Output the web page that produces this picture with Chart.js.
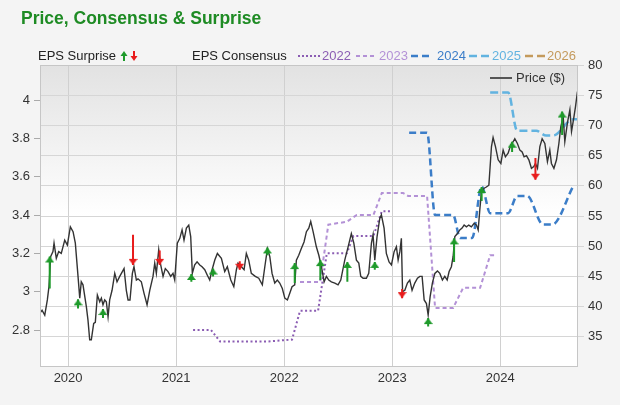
<!DOCTYPE html>
<html>
<head>
<meta charset="utf-8">
<script src="https://cdn.jsdelivr.net/npm/chart.js@4.4.0/dist/chart.umd.min.js"></script>
<style>
body { margin: 0; background: #f4f4f4; font-family: "Liberation Sans", Arial, sans-serif; }
#wrap { position: relative; width: 620px; height: 405px; overflow: hidden; }
#wrap canvas { position: absolute; left: 0; top: 0; }
.title { position: absolute; left: 21px; top: 8px; font-size: 17.5px; line-height: 20px; font-weight: bold; color: #1e8b24; white-space: nowrap; }
.txt { position: absolute; top: 48px; font-size: 13px; line-height: 16px; color: #222; white-space: nowrap; }
.smp { position: absolute; top: 53px; }
</style>
</head>
<body>
<div id="wrap">
  <canvas id="chart" width="620" height="405"></canvas>
  <div class="title">Price, Consensus &amp; Surprise</div>

  <div class="txt" style="left:38px">EPS Surprise</div>
  <svg class="smp" style="left:120px;top:50px" width="20" height="12">
    <path d="M4 11 V5" stroke="#1e9a2a" stroke-width="2"/><path d="M0.5 6 L4 1 L7.5 6 Z" fill="#1e9a2a"/>
    <path d="M14 1 V7" stroke="#e81c1c" stroke-width="2"/><path d="M10.5 6 L14 11 L17.5 6 Z" fill="#e81c1c"/>
  </svg>

  <div class="txt" style="left:192px">EPS Consensus</div>
  <svg class="smp" style="left:298px" width="22" height="6"><line x1="0" y1="3" x2="22" y2="3" stroke="#8b5db3" stroke-width="2" stroke-dasharray="2 2"/></svg>
  <div class="txt" style="left:322px;color:#8b5db3">2022</div>
  <svg class="smp" style="left:356px" width="20" height="6"><line x1="0" y1="3" x2="20" y2="3" stroke="#b391d6" stroke-width="2" stroke-dasharray="4 3"/></svg>
  <div class="txt" style="left:379px;color:#b391d6">2023</div>
  <svg class="smp" style="left:411px" width="22" height="6"><line x1="0" y1="3" x2="22" y2="3" stroke="#3b7dc8" stroke-width="2.5" stroke-dasharray="7 4"/></svg>
  <div class="txt" style="left:437px;color:#3b7dc8">2024</div>
  <svg class="smp" style="left:469px" width="21" height="6"><line x1="0" y1="3" x2="21" y2="3" stroke="#62b3e0" stroke-width="2.5" stroke-dasharray="8 4"/></svg>
  <div class="txt" style="left:492px;color:#62b3e0">2025</div>
  <svg class="smp" style="left:525px" width="20" height="6"><line x1="0" y1="3" x2="20" y2="3" stroke="#c49a5c" stroke-width="2.5" stroke-dasharray="8 4"/></svg>
  <div class="txt" style="left:547px;color:#c49a5c">2026</div>

  <svg class="smp" style="left:490px;top:75px" width="22" height="6"><line x1="0" y1="3" x2="22" y2="3" stroke="#555" stroke-width="2"/></svg>
  <div class="txt" style="left:516px;top:70px;color:#333">Price ($)</div>
</div>

<script>
// x values are decimal years
const years = [2020, 2021, 2022, 2023, 2024];
const epsTicks = [2.8, 3, 3.2, 3.4, 3.6, 3.8, 4];
const priceTicks = [35, 40, 45, 50, 55, 60, 65, 70, 75, 80];

const priceX = [
  2019.737, 2019.759, 2019.784, 2019.808, 2019.823, 2019.839, 2019.860, 2019.870, 2019.891, 2019.913, 2019.937, 2019.969, 2019.993,
  2020.021, 2020.046, 2020.067, 2020.092, 2020.108, 2020.122, 2020.138, 2020.169, 2020.184, 2020.200, 2020.215, 2020.237, 2020.252,
  2020.271, 2020.293, 2020.308, 2020.323, 2020.339, 2020.354, 2020.370, 2020.385, 2020.407, 2020.432, 2020.453, 2020.478, 2020.518, 2020.539, 2020.555, 2020.573,
  2020.595, 2020.610, 2020.632, 2020.647, 2020.678, 2020.703, 2020.731, 2020.756, 2020.786, 2020.802, 2020.817, 2020.839, 2020.854, 2020.879, 2020.900, 2020.925, 2020.950, 2020.971, 2020.987,
  2021.011, 2021.034, 2021.055, 2021.073, 2021.095, 2021.117, 2021.135, 2021.150, 2021.172, 2021.194, 2021.219, 2021.240, 2021.265, 2021.289, 2021.311, 2021.333, 2021.358, 2021.382,
  2021.419, 2021.450, 2021.474, 2021.506, 2021.534, 2021.558, 2021.573, 2021.604, 2021.629, 2021.650, 2021.672, 2021.696, 2021.733, 2021.765, 2021.798, 2021.821, 2021.845, 2021.867, 2021.888, 2021.913, 2021.937, 2021.959, 2021.983,
  2022.006, 2022.030, 2022.052, 2022.073, 2022.098, 2022.113, 2022.135, 2022.159, 2022.184, 2022.206, 2022.228, 2022.246, 2022.268, 2022.298, 2022.321, 2022.345, 2022.370, 2022.391, 2022.413, 2022.437, 2022.469, 2022.499, 2022.524,
  2022.561, 2022.592, 2022.622, 2022.645, 2022.669, 2022.691, 2022.709, 2022.731, 2022.761, 2022.783, 2022.808, 2022.823, 2022.839, 2022.860, 2022.885, 2022.900, 2022.925, 2022.946, 2022.971, 2022.993, 2023.018, 2023.039, 2023.055, 2023.071, 2023.085, 2023.096,
  2023.117, 2023.141, 2023.163, 2023.184, 2023.209, 2023.234, 2023.256, 2023.277, 2023.296, 2023.317, 2023.333, 2023.351, 2023.372, 2023.395, 2023.419, 2023.441, 2023.465, 2023.487, 2023.509, 2023.527, 2023.548, 2023.564,
  2023.580, 2023.604, 2023.626, 2023.647, 2023.666, 2023.687, 2023.709, 2023.733, 2023.759, 2023.780, 2023.796, 2023.811, 2023.826, 2023.851, 2023.872, 2023.895,
  2023.919, 2023.934, 2023.956, 2023.981, 2024.006, 2024.027, 2024.048, 2024.073, 2024.098, 2024.120, 2024.135, 2024.159, 2024.182, 2024.203, 2024.221, 2024.243, 2024.265, 2024.289, 2024.311, 2024.326, 2024.345,
  2024.367, 2024.388, 2024.413, 2024.437, 2024.459, 2024.474, 2024.497, 2024.521, 2024.543, 2024.561, 2024.583, 2024.598, 2024.622, 2024.645, 2024.660, 2024.678, 2024.697, 2024.715
];
const priceY = [
  38.9, 39.4, 38.6, 41.1, 43.3, 48.3, 49.1, 50.5, 48.0, 49.1, 48.8, 51.0, 50.2,
  53.2, 52.4, 50.5, 45.0, 41.4, 44.1, 43.6, 40.0, 37.8, 34.5, 34.5, 37.2, 37.4,
  41.9, 40.8, 41.4, 40.3, 41.1, 40.8, 38.3, 41.1, 42.7, 45.5, 44.1, 45.0, 46.3, 42.7, 41.1, 41.1,
  45.5, 46.6, 44.4, 44.6, 44.1, 42.2, 40.3, 42.7, 45.0, 47.2, 45.5, 49.4, 47.2, 45.0, 46.3, 45.8, 45.0, 45.5, 44.4,
  50.5, 51.3, 52.7, 51.0, 53.0, 53.5, 51.6, 45.5, 46.9, 47.4, 46.9, 46.6, 46.1, 45.2, 44.4, 46.1, 47.7, 48.8,
  48.0, 45.8, 46.6, 44.4, 43.3, 46.1, 47.2, 46.6, 46.1, 48.8, 47.7, 45.5, 45.0, 44.7, 43.6, 46.6, 49.6, 48.3, 45.5, 43.9, 44.4, 43.9, 43.0,
  41.4, 41.1, 42.2, 43.3, 43.6, 47.7, 48.5, 49.6, 50.7, 52.4, 53.0, 54.1, 52.4, 49.9, 48.5, 46.6, 44.1, 45.0, 44.4, 44.1, 43.9, 43.6, 44.4,
  47.7, 49.9, 52.1, 50.5, 47.7, 47.2, 45.0, 44.7, 44.7, 45.5, 50.5, 51.9, 47.7, 51.6, 54.6, 55.2, 53.0, 48.8, 47.4, 46.9, 49.1, 49.9, 47.7, 49.1, 51.3, 42.5,
  42.7, 43.9, 44.4, 42.7, 43.9, 44.7, 45.0, 45.0, 41.1, 40.5, 38.6, 41.6, 43.9, 45.5, 45.9, 45.5, 44.4, 45.0, 44.4, 45.8, 46.6, 48.3,
  51.6, 52.1, 52.7, 53.0, 53.5, 53.2, 53.5, 53.2, 53.8, 53.5, 52.7, 56.0, 59.0, 59.6, 59.8, 60.1,
  66.5, 68.0, 66.5, 64.3, 63.7, 65.9, 64.8, 65.4, 66.8, 67.3, 67.8, 67.0, 65.9, 65.6, 64.8, 65.0, 64.3, 62.9, 63.2, 63.7, 62.9,
  66.5, 67.8, 67.0, 64.0, 65.9, 63.7, 62.9, 64.3, 67.0, 69.8, 71.4, 67.3, 70.4, 72.6, 69.0, 70.9, 73.1, 75.6
];

// EPS consensus by fiscal year (left axis)
const fy2022X = [2021.157, 2021.323, 2021.407, 2021.842, 2022.073, 2022.147, 2022.314, 2022.395, 2022.580, 2022.641, 2022.826, 2022.904, 2022.997];
const fy2022Y = [2.80, 2.80, 2.74, 2.74, 2.75, 2.90, 2.90, 3.20, 3.20, 3.29, 3.29, 3.42, 3.42];
const fy2023X = [2022.147, 2022.333, 2022.409, 2022.580, 2022.672, 2022.826, 2022.904, 2023.101, 2023.147, 2023.323, 2023.397, 2023.564, 2023.657, 2023.814, 2023.907, 2023.971];
const fy2023Y = [3.05, 3.05, 3.35, 3.365, 3.40, 3.40, 3.515, 3.515, 3.50, 3.50, 2.915, 2.915, 3.02, 3.02, 3.19, 3.19];
const fy2024X = [2023.157, 2023.323, 2023.397, 2023.564, 2023.629, 2023.740, 2023.828, 2023.907, 2024.073, 2024.157, 2024.249, 2024.397, 2024.481, 2024.675];
const fy2024Y = [3.83, 3.83, 3.40, 3.40, 3.28, 3.28, 3.55, 3.41, 3.41, 3.50, 3.50, 3.35, 3.35, 3.55];
const fy2025X = [2023.907, 2024.073, 2024.157, 2024.333, 2024.425, 2024.490, 2024.675, 2024.722];
const fy2025Y = [4.04, 4.04, 3.84, 3.84, 3.815, 3.815, 3.90, 3.90];
const fy2026X = [];
const fy2026Y = [];

// EPS surprise arrows, drawn against the price axis
const surpriseX = [2019.830, 2020.092, 2020.323, 2020.601, 2020.848, 2021.141, 2021.342, 2021.589, 2021.845, 2022.098,
                   2022.335, 2022.585, 2022.839, 2023.092, 2023.333, 2023.573, 2023.828, 2024.110, 2024.326, 2024.573];
const surpriseFrom = [43.0, 39.7, 38.1, 51.9, 49.3, 44.1, 45.0, 47.5, 48.5, 43.9, 44.4, 44.1, 46.1, 42.9, 36.7, 47.4, 57.5, 65.6, 64.6, 68.4];
const surpriseTo = [48.3, 41.2, 39.6, 46.9, 46.9, 45.4, 46.3, 46.1, 49.8, 47.2, 47.7, 47.4, 47.4, 41.4, 38.1, 51.3, 59.8, 67.3, 61.0, 72.3];

function pts(xs, ys) {
  return xs.map((x, i) => ({ x: x, y: ys[i] }));
}

function makeHead(color) {
  const c = document.createElement('canvas');
  c.width = 9;
  c.height = 16;
  const g = c.getContext('2d');
  g.fillStyle = color;
  g.beginPath();
  g.moveTo(4.5, 8);
  g.lineTo(9, 14);
  g.lineTo(0, 14);
  g.closePath();
  g.fill();
  return c;
}

function arrowData(up) {
  const d = [];
  for (let i = 0; i < surpriseX.length; i++) {
    if ((surpriseTo[i] > surpriseFrom[i]) !== up) continue;
    d.push({ x: surpriseX[i], y: surpriseFrom[i] });
    d.push({ x: surpriseX[i], y: surpriseTo[i] });
    d.push({ x: surpriseX[i], y: null });
  }
  return d;
}

function arrowSet(up, color) {
  const head = makeHead(color);
  return {
    label: up ? 'beat' : 'miss',
    data: arrowData(up),
    yAxisID: 'yR',
    borderColor: color,
    borderWidth: 2,
    spanGaps: false,
    pointStyle: ctx => (ctx.dataIndex % 3 === 1 ? head : 'circle'),
    pointRadius: ctx => (ctx.dataIndex % 3 === 1 ? 5 : 0),
    pointRotation: up ? 0 : 180,
    order: 0
  };
}

function consensusSet(label, xs, ys, color, width, dash, smooth) {
  return {
    label: label,
    data: pts(xs, ys),
    yAxisID: 'yL',
    borderColor: color,
    borderWidth: width,
    borderDash: dash,
    pointRadius: 0,
    cubicInterpolationMode: smooth ? 'monotone' : 'default',
    order: 2
  };
}

const plotBg = {
  id: 'plotBg',
  beforeDraw(chart) {
    const { ctx, chartArea: a } = chart;
    const g = ctx.createLinearGradient(0, a.top, 0, a.bottom);
    g.addColorStop(0, '#e2e2e2');
    g.addColorStop(0.5, '#ffffff');
    g.addColorStop(1, '#ffffff');
    ctx.save();
    ctx.fillStyle = g;
    ctx.fillRect(a.left, a.top, a.right - a.left, a.bottom - a.top);
    ctx.restore();
  },
  afterDraw(chart) {
    const { ctx, chartArea: a } = chart;
    ctx.save();
    ctx.strokeStyle = '#c6c6c6';
    ctx.lineWidth = 1;
    ctx.strokeRect(a.left + 0.5, a.top + 0.5, a.right - a.left - 1, a.bottom - a.top - 1);
    ctx.restore();
  }
};

Chart.defaults.font.family = '"Liberation Sans", Arial, sans-serif';
Chart.defaults.font.size = 13;
Chart.defaults.color = '#333';

new Chart(document.getElementById('chart'), {
  type: 'line',
  data: {
    datasets: [
      arrowSet(true, '#1e9a2a'),
      arrowSet(false, '#e81c1c'),
      {
        label: 'Price ($)',
        data: pts(priceX, priceY),
        yAxisID: 'yR',
        borderColor: '#333333',
        borderWidth: 1.4,
        pointRadius: 0,
        order: 1
      },
      consensusSet('2022', fy2022X, fy2022Y, '#8b5db3', 2, [2, 2.5], false),
      consensusSet('2023', fy2023X, fy2023Y, '#b391d6', 2, [4, 3], false),
      consensusSet('2024', fy2024X, fy2024Y, '#3b7dc8', 2.5, [7, 4], true),
      consensusSet('2025', fy2025X, fy2025Y, '#62b3e0', 2.5, [8, 4], true),
      consensusSet('2026', fy2026X, fy2026Y, '#c49a5c', 2.5, [8, 4], true)
    ]
  },
  options: {
    responsive: false,
    animation: false,
    devicePixelRatio: 1,
    layout: { padding: { top: 65, left: 0, right: 0, bottom: 0 } },
    plugins: { legend: { display: false }, tooltip: { enabled: false } },
    scales: {
      x: {
        type: 'linear',
        min: 2019.74,
        max: 2024.72,
        afterBuildTicks: s => { s.ticks = years.map(v => ({ value: v })); },
        afterFit: s => { s.height = 38; },
        grid: { color: '#d0d0d0', drawTicks: false },
        border: { display: false },
        ticks: { padding: 4, autoSkip: false, maxRotation: 0, callback: v => String(v) }
      },
      yL: {
        position: 'left',
        min: 2.607,
        max: 4.183,
        afterBuildTicks: s => { s.ticks = epsTicks.map(v => ({ value: v })); },
        afterFit: s => { s.width = 40; },
        grid: { drawOnChartArea: false, tickLength: 6, color: '#aaaaaa' },
        border: { display: false },
        ticks: { padding: 4, callback: v => String(v) }
      },
      yR: {
        position: 'right',
        min: 30,
        max: 80,
        afterBuildTicks: s => { s.ticks = priceTicks.map(v => ({ value: v })); },
        afterFit: s => { s.width = 42; },
        grid: { color: '#d6d6d6', tickLength: 6 },
        border: { display: false },
        ticks: { padding: 4, callback: v => String(v) }
      }
    }
  },
  plugins: [plotBg]
});
</script>
</body>
</html>
